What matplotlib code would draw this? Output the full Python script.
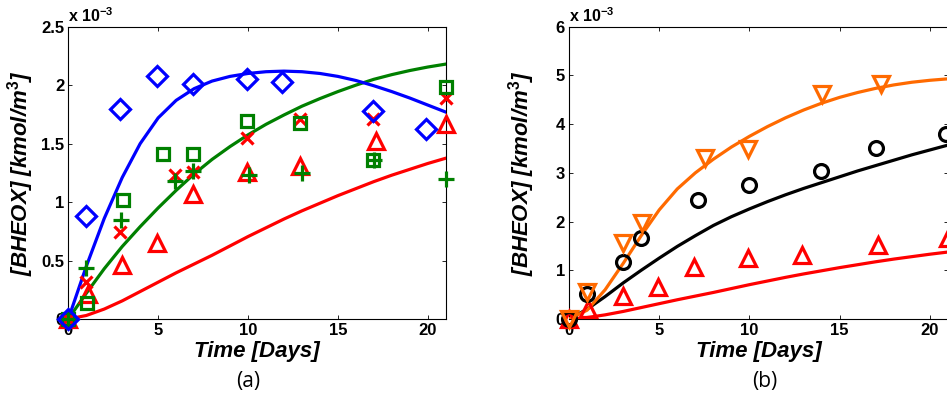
import numpy as np
import matplotlib.pyplot as plt

plt.rcParams['font.family'] = ['Liberation Sans', 'DejaVu Sans']
plt.rcParams['mathtext.fontset'] = 'custom'
plt.rcParams['mathtext.rm'] = 'Liberation Sans:bold'
plt.rcParams['mathtext.default'] = 'rm'

# concentrations in 1e-3 kmol/m^3
fit_days = [0, 1, 2, 3, 4, 5, 6, 7, 8, 9, 10, 11, 12, 13, 14, 15, 16, 17, 18, 19, 20, 21]
fit_blue = [0, 0.45, 0.86, 1.21, 1.50, 1.72, 1.87, 1.97, 2.035, 2.075, 2.10, 2.115, 2.12, 2.115,
            2.10, 2.075, 2.04, 1.995, 1.945, 1.89, 1.83, 1.77]
fit_green = [0, 0.22, 0.43, 0.62, 0.79, 0.95, 1.10, 1.24, 1.365, 1.475, 1.575, 1.665, 1.745, 1.82,
             1.885, 1.945, 2.0, 2.05, 2.09, 2.125, 2.155, 2.18]
fit_red = [0, 0.03, 0.085, 0.155, 0.235, 0.315, 0.395, 0.47, 0.545, 0.625, 0.705, 0.78, 0.855,
           0.925, 0.99, 1.055, 1.115, 1.175, 1.23, 1.28, 1.33, 1.375]
fit_orange = [0, 0.18, 0.60, 1.14, 1.71, 2.24, 2.67, 3.00, 3.28, 3.53, 3.75, 3.95, 4.13, 4.29,
              4.43, 4.55, 4.65, 4.735, 4.805, 4.86, 4.90, 4.93]
fit_black = [0, 0.2, 0.46, 0.74, 1.0, 1.25, 1.49, 1.71, 1.92, 2.10, 2.26, 2.41, 2.55, 2.68,
             2.80, 2.92, 3.04, 3.15, 3.26, 3.37, 3.47, 3.57]

diamond_days = [0, 0.99, 2.89, 4.91, 6.92, 9.94, 11.91, 16.93, 19.88]
diamond_vals = [0, 0.88, 1.80, 2.077, 2.01, 2.05, 2.03, 1.78, 1.625]
square_days = [0, 1.03, 3.04, 5.28, 6.92, 9.94, 12.91, 16.93, 20.99]
square_vals = [0, 0.137, 1.014, 1.41, 1.41, 1.69, 1.673, 1.36, 1.985]
plus_days = [0, 0.99, 2.95, 5.93, 6.96, 10.04, 13.02, 17.02, 21.0]
plus_vals = [0, 0.437, 0.843, 1.18, 1.27, 1.23, 1.25, 1.36, 1.195]
cross_days = [0, 0.99, 2.85, 5.93, 6.92, 9.94, 12.91, 16.93, 20.99]
cross_vals = [0, 0.314, 0.743, 1.229, 1.257, 1.55, 1.71, 1.71, 1.893]
tri_days = [0, 1.08, 3.0, 4.91, 6.92, 9.94, 12.91, 17.12, 20.99]
tri_vals = [0, 0.214, 0.466, 0.649, 1.07, 1.26, 1.31, 1.52, 1.665]

vtri_days = [0, 0.98, 3.0, 4.03, 7.53, 9.93, 14.0, 17.3]
vtri_vals = [0, 0.55, 1.55, 1.97, 3.30, 3.49, 4.61, 4.82]
circle_days = [0, 0.98, 3.0, 3.99, 7.17, 10.0, 13.94, 17.0, 20.9]
circle_vals = [0, 0.51, 1.16, 1.655, 2.44, 2.75, 3.04, 3.52, 3.79]

BLUE = '#0000ff'
GREEN = '#008000'
RED = '#ff0000'
ORANGE = '#ff6a00'
BLACK = '#000000'


def style_axes(ax, ymax, yticks, yticklabels):
    ax.set_xlim(0, 21)
    ax.set_ylim(0, ymax)
    ax.set_xticks([0, 5, 10, 15, 20])
    ax.set_xticklabels(['0', '5', '10', '15', '20'])
    ax.set_yticks(yticks)
    ax.set_yticklabels(yticklabels)
    ax.tick_params(direction='in', top=True, right=True, length=3, width=0.6,
                   labelsize=12, pad=3)
    for lab in ax.get_xticklabels() + ax.get_yticklabels():
        lab.set_fontweight('bold')
    for sp in ax.spines.values():
        sp.set_linewidth(0.8)
    ax.set_xlabel('Time [Days]', fontsize=16, fontweight='bold', style='italic')
    ax.set_ylabel('[BHEOX] [kmol/m$^3$]', fontsize=16, fontweight='bold', style='italic')
    ax.xaxis.set_label_coords(0.5, -0.075)
    ax.yaxis.set_label_coords(-0.085, 0.5)
    ax.text(0.0, 1.005, 'x 10$^{-3}$', transform=ax.transAxes, ha='left', va='bottom',
            fontsize=11.5, fontweight='bold')


def markers(ax, x, y, m, color, ms):
    ax.plot(x, y, linestyle='none', marker=m, ms=ms, mec=color, mfc='none', mew=2.3,
            clip_on=False, zorder=4)


fig = plt.figure(figsize=(9.47, 4.03), dpi=100)
ax_a = fig.add_axes([68.3 / 947, 84 / 403, 377.4 / 947, 292.3 / 403])
ax_b = fig.add_axes([569 / 947, 84 / 403, 379 / 947, 292.3 / 403])

# panel (a)
ax_a.plot(fit_days, fit_red, color=RED, lw=2.3, zorder=3)
ax_a.plot(fit_days, fit_green, color=GREEN, lw=2.3, zorder=3)
ax_a.plot(fit_days, fit_blue, color=BLUE, lw=2.3, zorder=3)
markers(ax_a, tri_days, tri_vals, '^', RED, 11.5)
markers(ax_a, cross_days, cross_vals, 'x', RED, 8)
markers(ax_a, plus_days, plus_vals, '+', GREEN, 11)
markers(ax_a, square_days, square_vals, 's', GREEN, 9)
markers(ax_a, diamond_days, diamond_vals, 'D', BLUE, 10.5)
style_axes(ax_a, 2.5, [0, 0.5, 1, 1.5, 2, 2.5], ['0', '0.5', '1', '1.5', '2', '2.5'])

# panel (b)
ax_b.plot(fit_days, fit_red, color=RED, lw=2.3, zorder=3)
ax_b.plot(fit_days, fit_black, color=BLACK, lw=2.3, zorder=3)
ax_b.plot(fit_days, fit_orange, color=ORANGE, lw=2.3, zorder=3)
markers(ax_b, tri_days, tri_vals, '^', RED, 11.5)
markers(ax_b, circle_days, circle_vals, 'o', BLACK, 10)
markers(ax_b, vtri_days, vtri_vals, 'v', ORANGE, 11.5)
style_axes(ax_b, 6, [0, 1, 2, 3, 4, 5, 6], ['0', '1', '2', '3', '4', '5', '6'])

fig.text(248 / 947, (403 - 382) / 403, '(a)', ha='center', va='center', fontsize=15,
         family=['Open Sans', 'DejaVu Sans'])
fig.text(765 / 947, (403 - 382) / 403, '(b)', ha='center', va='center', fontsize=15,
         family=['Open Sans', 'DejaVu Sans'])

fig.savefig('out.png', dpi=100)
